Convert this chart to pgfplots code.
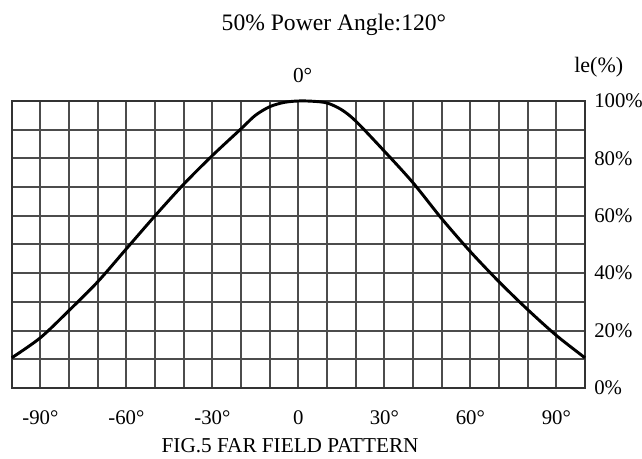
\documentclass[border=0pt]{standalone}
\usepackage{fontspec}
\setmainfont{Liberation Serif}
\usepackage{pgfplots}
\pgfplotsset{compat=1.18}
\begin{document}
\begin{tikzpicture}
\path[use as bounding box] (-8.8pt,-53pt) rectangle (472.75pt,291pt);
\begin{axis}[
  at={(0,0)}, anchor=south west,
  scale only axis, width=430pt, height=215.25pt,
  xmin=-100, xmax=100, ymin=0, ymax=100,
  xtick={-100,-90,...,100},
  xticklabels={,-90°,,,-60°,,,-30°,,,0,,,30°,,,60°,,,90°,},
  ytick={0,10,...,100},
  yticklabels={0\%,,20\%,,40\%,,60\%,,80\%,,100\%},
  yticklabel pos=right,
  major tick length=0pt,
  xmajorgrids, ymajorgrids,
  major grid style={black!70, line width=1.5pt},
  axis line style={black!80, line width=1.5pt},
  tick label style={font=\fontsize{15.6}{18}\selectfont},
  xticklabel style={anchor=base, yshift=-27.4pt},
  yticklabel style={anchor=west, inner sep=0pt, xshift=6.75pt},
  clip=false,
]
\addplot[black, line width=2.2pt, smooth] coordinates {
(-100,10.5) (-90,17.5) (-80,27) (-70,37) (-60,48.5) (-50,60) (-40,71)
(-30,81) (-20,90.3) (-15,95) (-10,98) (-5,99.5) (0,100) (5,99.9) (10,99.3)
(15,97) (20,93) (30,82.5) (40,71.5) (50,59) (60,47.5) (70,37) (80,27.3)
(90,18.3) (100,10.5)
};
\node[anchor=base, font=\fontsize{17.7}{20}\selectfont] at (axis cs:12.4,124.5) {50\% Power Angle:120°};
\node[anchor=base, font=\fontsize{16}{18}\selectfont] at (axis cs:0,106.4) {0\rlap{°}};
\node[anchor=base, font=\fontsize{16.5}{19}\selectfont] at (axis cs:104.8,110) {le(\%)};
\node[anchor=base, font=\fontsize{15.9}{18}\selectfont] at (axis cs:-2.9,-22.6) {FIG.5 FAR FIELD PATTERN};
\end{axis}
\end{tikzpicture}
\end{document}
